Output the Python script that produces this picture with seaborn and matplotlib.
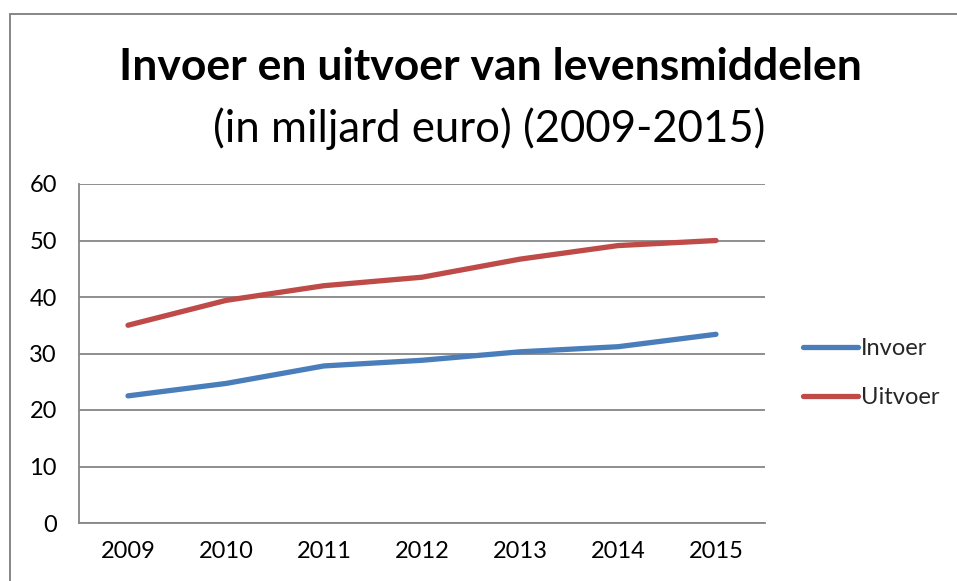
import matplotlib
matplotlib.use("Agg")
import matplotlib.pyplot as plt
import matplotlib.patches as mpatches
import seaborn as sns
import pandas as pd

years = [2009, 2010, 2011, 2012, 2013, 2014, 2015]
invoer = [22.5, 24.7, 27.8, 28.8, 30.3, 31.2, 33.4]
uitvoer = [35.0, 39.4, 42.0, 43.5, 46.7, 49.1, 50.0]
series_names = ["Invoer", "Uitvoer"]
y_ticks = [0, 10, 20, 30, 40, 50, 60]
title_line1 = "Invoer en uitvoer van levensmiddelen"
title_line2 = "(in miljard euro) (2009-2015)"

df = pd.DataFrame({
    "jaar": years * 2,
    "waarde": invoer + uitvoer,
    "reeks": [series_names[0]] * len(years) + [series_names[1]] * len(years),
})

sns.set_theme(style="white")
plt.rcParams["font.family"] = ["Lato", "DejaVu Sans"]

W, H = 957, 581
fig = plt.figure(figsize=(W / 100, H / 100), dpi=100)
ax = fig.add_axes([79 / W, 1 - 523 / H, (765 - 79) / W, (523 - 184) / H])

grey = "#868686"
sns.lineplot(data=df, x="jaar", y="waarde", hue="reeks", ax=ax,
             palette={"Invoer": "#4A7EBB", "Uitvoer": "#BE4B48"},
             linewidth=3.8, legend=True)
for ln in ax.lines:
    ln.set_solid_capstyle("round")

ax.set_xlim(years[0] - 0.5, years[-1] + 0.5)
ax.set_ylim(y_ticks[0], y_ticks[-1])
ax.set_yticks(y_ticks)
ax.set_xticks([y - 0.5 for y in years] + [years[-1] + 0.5])
ax.set_xticklabels([])
ax.set_xticks(years, minor=True)
ax.set_xticklabels([str(y) for y in years], minor=True)
ax.tick_params(axis="x", which="major", length=7, width=1.3, color=grey, direction="out")
ax.tick_params(axis="x", which="minor", length=0, pad=13, labelsize=17, labelcolor="black")
ax.tick_params(axis="y", length=7, width=1.3, color=grey, direction="out", pad=9,
               labelsize=17, labelcolor="black")
ax.set_xlabel("")
ax.set_ylabel("")
ax.grid(axis="y", color=grey, linewidth=1.3)
ax.set_axisbelow(True)
for s in ["top", "right"]:
    ax.spines[s].set_visible(False)
for s in ["left", "bottom"]:
    ax.spines[s].set_color(grey)
    ax.spines[s].set_linewidth(1.3)

handles, labels = ax.get_legend_handles_labels()
ax.legend_.remove()
leg = fig.legend(handles, labels, loc="center left",
                 bbox_to_anchor=(803 / W, 1 - 373 / H), frameon=False,
                 fontsize=17, handlelength=2.35, handletextpad=0.12,
                 labelspacing=1.2, borderpad=0, borderaxespad=0)
for h in leg.get_lines():
    h.set_linewidth(3.8)
    h.set_solid_capstyle("round")

fig.text(490 / W, 1 - 80 / H, title_line1, ha="center", va="baseline",
         fontsize=32, fontweight="bold", color="black")
fig.text(489 / W, 1 - 142 / H, title_line2, ha="center", va="baseline",
         fontsize=31.5, color="black")

border = mpatches.Rectangle((10 / W, -0.1), 1.2, 1 - 14 / H + 0.1,
                            transform=fig.transFigure, fill=False,
                            edgecolor=grey, linewidth=1.4, clip_on=False)
fig.patches.append(border)

fig.savefig("out.png", dpi=100)
